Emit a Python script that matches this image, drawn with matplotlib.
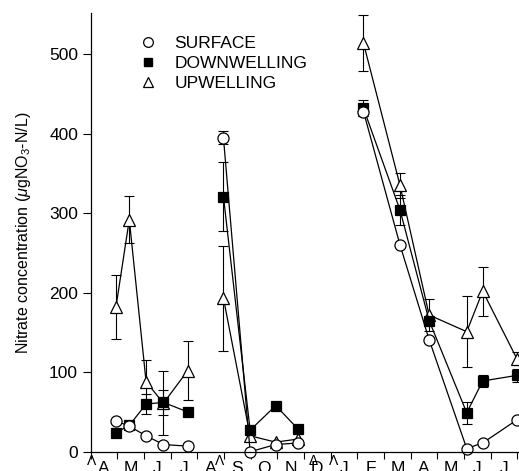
import numpy as np
import matplotlib.pyplot as plt
from matplotlib.lines import Line2D

plt.rcParams['font.family'] = ['Liberation Sans', 'DejaVu Sans']
plt.rcParams['mathtext.fontset'] = 'custom'
plt.rcParams['mathtext.rm'] = 'Liberation Sans'
plt.rcParams['mathtext.it'] = 'Liberation Sans:italic'

# x = months since 1 April (year 1), three sampling periods
x1 = [0.95, 1.45, 2.08, 2.73, 3.64]
x2 = [4.98, 5.98, 6.94, 7.79]
x3 = [10.23, 11.6, 12.69, 14.1, 14.7, 15.98]

surf1 = [39, 32, 20, 9, 7]
surf2 = [395, 0, 9, 11]
surf3 = [428, 260, 141, 4, 11, 40]
surf_err1 = [0, 0, 0, 0, 0]
surf_err2 = [8, 0, 0, 0]
surf_err3 = [6, 0, 0, 0, 0, 0]

down1 = [24, 33, 60, 62, 50]
down2 = [321, 27, 58, 28]
down3 = [432, 304, 165, 49, 89, 96]
down_err1 = [0, 0, 12, 16, 0]
down_err2 = [43, 0, 0, 0]
down_err3 = [10, 19, 0, 14, 8, 8]

up1 = [182, 292, 88, 61, 102]
up2 = [193, 20, 12, 16]
up3 = [514, 335, 172, 151, 202, 117]
up_err1 = [40, 30, 27, 40, 37]
up_err2 = [66, 0, 0, 0]
up_err3 = [35, 16, 20, 45, 31, 8]

months = ['A', 'M', 'J', 'J', 'A', 'S', 'O', 'N', 'D', 'J', 'F', 'M', 'A', 'M', 'J', 'J']
event_x = [0.05, 4.82, 8.35, 9.1]
event_sym = ['Λ', 'Λ', 'Δ', 'Λ']

fig = plt.figure(figsize=(5.19, 4.71), dpi=100)
ax = fig.add_axes([0.1746, 0.041, 0.8254, 0.9314])

series = [
    ((up1, up2, up3), (up_err1, up_err2, up_err3), '^', 'white', 8.5),
    ((down1, down2, down3), (down_err1, down_err2, down_err3), 's', 'black', 6.5),
    ((surf1, surf2, surf3), (surf_err1, surf_err2, surf_err3), 'o', 'white', 8),
]
for vals, errs, mk, fc, ms in series:
    for xs, ys, es in zip((x1, x2, x3), vals, errs):
        es = np.array(es, dtype=float)
        es[es == 0] = np.nan
        ax.errorbar(xs, ys, yerr=es, fmt='none', ecolor='black',
                    elinewidth=0.8, capsize=3.5, capthick=0.8, clip_on=False)
        ax.plot(xs, ys, color='black', linewidth=0.9, marker=mk, markersize=ms,
                markerfacecolor=fc, markeredgecolor='black', markeredgewidth=0.9,
                clip_on=False)

ax.set_xlim(0, 16.06)
ax.set_ylim(0, 552)
ax.spines['top'].set_visible(False)
ax.spines['right'].set_visible(False)
ax.spines['left'].set_linewidth(0.9)
ax.spines['bottom'].set_linewidth(0.9)

ax.set_yticks(np.arange(0, 501, 100))
ax.tick_params(axis='y', direction='out', length=6, width=0.8, labelsize=12.5, pad=3)
ax.set_xticks(np.arange(0, 17))
ax.set_xticklabels([])
ax.set_xticks(np.arange(0.5, 16), minor=True)
ax.set_xticklabels(months, minor=True)
ax.tick_params(axis='x', which='major', direction='out', length=5, width=0.8)
ax.tick_params(axis='x', which='minor', length=0, labelsize=12.5, pad=6.5)

ax.set_ylabel(r'Nitrate concentration ($\mu$gNO$_3$-N/L)', fontsize=11.5)
ax.yaxis.set_label_coords(-0.135, 0.5)

# event markers below the axis
for ex, sym in zip(event_x, event_sym):
    ax.text(ex, -0.006, sym, transform=ax.get_xaxis_transform(), ha='center',
            va='top', fontsize=10, clip_on=False)

handles = [
    Line2D([], [], linestyle='none', marker='o', markersize=7, markerfacecolor='white',
           markeredgecolor='black', markeredgewidth=0.9),
    Line2D([], [], linestyle='none', marker='s', markersize=6, markerfacecolor='black',
           markeredgecolor='black'),
    Line2D([], [], linestyle='none', marker='^', markersize=7, markerfacecolor='white',
           markeredgecolor='black', markeredgewidth=0.9),
]
ax.legend(handles, ['SURFACE', 'DOWNWELLING', 'UPWELLING'], loc='upper left',
          bbox_to_anchor=(0.109, 0.948), frameon=False, fontsize=12.5,
          borderpad=0, borderaxespad=0, labelspacing=0.29, handlelength=1.2,
          handletextpad=0.95)

plt.savefig('out.png', dpi=100)
plt.close()
